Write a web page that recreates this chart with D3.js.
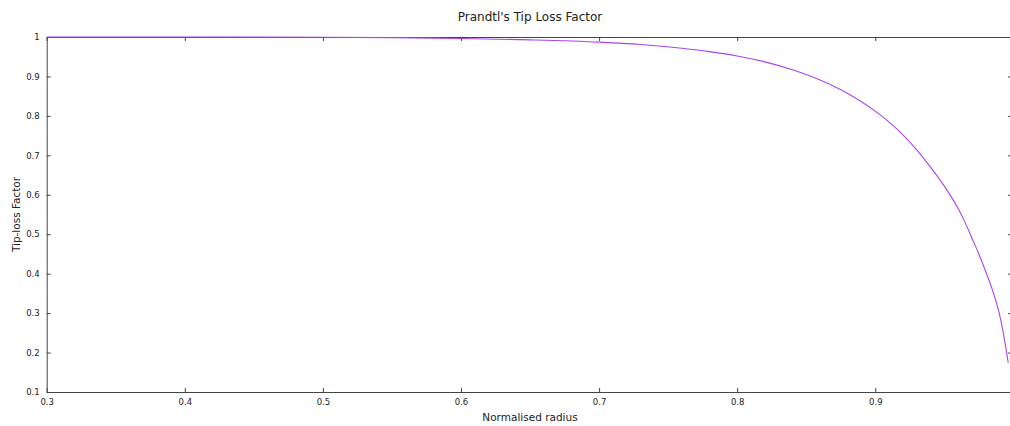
<!DOCTYPE html>
<html><head><meta charset="utf-8">
<script src="https://cdn.jsdelivr.net/npm/d3@7"></script>
<style>body{margin:0;background:#fff;} svg{display:block;} text{font-family:"DejaVu Sans",sans-serif;fill:#222;}</style>
</head><body>
<svg id="c" width="1010" height="426"></svg>
<script>
const radius = [0.30, 0.40, 0.50, 0.55, 0.60, 0.65, 0.70, 0.73, 0.76, 0.78, 0.80, 0.82, 0.84, 0.86, 0.88, 0.90, 0.92, 0.93, 0.94, 0.95, 0.96, 0.965, 0.97, 0.975, 0.98, 0.985, 0.99, 0.9927, 0.9963];
const factor = [1.000, 0.9999, 0.9993, 0.9983, 0.9963, 0.9928, 0.987, 0.981, 0.9715, 0.963, 0.952, 0.937, 0.917, 0.891, 0.857, 0.812, 0.752, 0.714, 0.670, 0.622, 0.565, 0.530, 0.490, 0.450, 0.405, 0.357, 0.296, 0.250, 0.174];
const xTicks = [0.3, 0.4, 0.5, 0.6, 0.7, 0.8, 0.9];
const yTicks = [0.1, 0.2, 0.3, 0.4, 0.5, 0.6, 0.7, 0.8, 0.9, 1.0];
const title = "Prandtl's Tip Loss Factor";
const xLabel = "Normalised radius";
const yLabel = "Tip-loss Factor";

const svg = d3.select("#c");
const L = 46.7, R = 1012, T = 37, B = 392;
const x = d3.scaleLinear().domain([0.3, 0.999]).range([L, R]);
const y = d3.scaleLinear().domain([0.1, 1.0]).range([B, T]);
const axCol = "#444";
const tl = 4;

const fmt = d => d === 1 ? "1" : d3.format(".1f")(d);

const gx = svg.append("g").attr("transform", `translate(0,${B})`)
  .call(d3.axisBottom(x).tickValues(xTicks).tickFormat(fmt).tickSizeInner(-tl).tickSizeOuter(0).tickPadding(7));
const gxt = svg.append("g").attr("transform", `translate(0,${T})`)
  .call(d3.axisTop(x).tickValues(xTicks).tickFormat("").tickSizeInner(-tl).tickSizeOuter(0));
const gy = svg.append("g").attr("transform", `translate(${L},0)`)
  .call(d3.axisLeft(y).tickValues(yTicks).tickFormat(fmt).tickSizeInner(-tl).tickSizeOuter(0).tickPadding(7));
const gyr = svg.append("g").attr("transform", `translate(${R},0)`)
  .call(d3.axisRight(y).tickValues(yTicks).tickFormat("").tickSizeInner(-tl).tickSizeOuter(0));

[gx, gxt, gy, gyr].forEach(g => {
  g.selectAll(".domain").attr("stroke", axCol).attr("stroke-width", 1);
  g.selectAll(".tick line").attr("stroke", axCol);
  g.selectAll(".tick text").attr("font-family", "DejaVu Sans").attr("font-size", "8.5px").attr("fill", "#222");
});
gy.selectAll(".tick text").attr("dy", "0.32em");

const pts = radius.map((r, i) => [r, factor[i]]);
svg.append("path").datum(pts)
  .attr("fill", "none").attr("stroke", "#ac44e8").attr("stroke-width", 1.1)
  .attr("d", d3.line().x(d => x(d[0])).y(d => y(d[1])).curve(d3.curveMonotoneX));

svg.append("text").attr("x", 530).attr("y", 21).attr("text-anchor", "middle")
  .attr("font-size", "12px").text(title);
svg.append("text").attr("x", 530).attr("y", 421).attr("text-anchor", "middle")
  .attr("font-size", "10.5px").text(xLabel);
svg.append("text").attr("transform", `translate(20,${(T + B) / 2}) rotate(-90)`).attr("text-anchor", "middle")
  .attr("font-size", "10.5px").text(yLabel);
</script>
</body></html>
